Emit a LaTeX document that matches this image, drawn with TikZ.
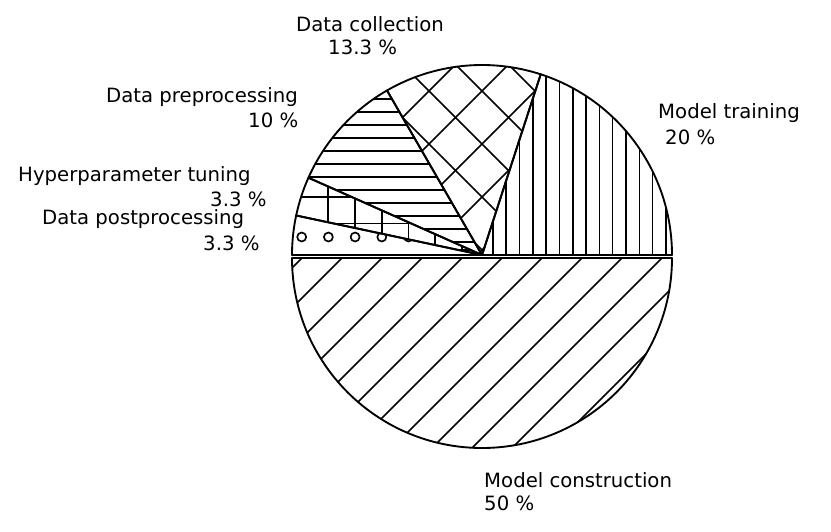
\documentclass[tikz,border=0pt]{standalone}
\usepackage{fontspec}
\setmainfont{DejaVu Sans}
\newcommand\slice[3]{(#1) -- ++(-#2:190) arc[start angle=-#2, end angle=-#3, radius=190] -- cycle}
\begin{document}
\begin{tikzpicture}[x=0.03cm,y=-0.03cm,line join=round,
    rim/.style={line width=1.6pt},
    hatch/.style={line width=1.4pt},
    lbl/.style={anchor=west,inner sep=0pt,font=\fontsize{16.8}{19}\selectfont}]
\useasboundingbox (0,0) rectangle (831,532);
\coordinate (top) at (482,255);
\coordinate (bot) at (482,258);
% model training
\begin{scope}
	\clip \slice{top}{0}{72};
	\foreach \k in {0,...,14} \draw[hatch] ({492.7+13.33*\k},50) -- ++(0,220);
\end{scope}
\draw[rim] \slice{top}{0}{72};
% data collection
\begin{scope}
	\clip \slice{top}{72}{120};
	\foreach \k in {-6,...,6} {
		\draw[hatch] ({482+53*\k-250},0) -- ++(500,500);
		\draw[hatch] ({482+53*\k+250},0) -- ++(-500,500);
	}
\end{scope}
\draw[rim] \slice{top}{72}{120};
% data preprocessing
\begin{scope}
	\clip \slice{top}{120}{156};
	\foreach \k in {0,...,12} \draw[hatch] (280,{99.3+13*\k}) -- ++(220,0);
\end{scope}
\draw[rim] \slice{top}{120}{156};
% hyperparameter tuning
\begin{scope}
	\clip \slice{top}{156}{168};
	\foreach \k in {0,...,6} \draw[hatch] ({328.3+26.7*\k},150) -- ++(0,120);
	\foreach \k in {0,...,2} \draw[hatch] (280,{196.7+26.7*\k}) -- ++(220,0);
\end{scope}
\draw[rim] \slice{top}{156}{168};
% data postprocessing
\begin{scope}
	\clip \slice{top}{168}{180};
	\foreach \k in {0,...,6} \draw[hatch] ({301.7+26.7*\k},237) circle[radius=4.5];
\end{scope}
\draw[rim] \slice{top}{168}{180};
% model construction
\begin{scope}
	\clip \slice{bot}{180}{360};
	\foreach \k in {0,...,17} \draw[hatch] ({260+40*\k-300},560) -- ++(320,-320);
\end{scope}
\draw[rim] \slice{bot}{180}{360};
% labels
\node[lbl] (dc1) at (296,24) {Data collection};
\node[lbl] (dc2) at (328,47) {13.3 \%};
\node[lbl] (dp1) at (106,97) {Data preprocessing};
\node[lbl] (dp2) at (248,120) {10 \%};
\node[lbl] (mt1) at (658,113) {Model training};
\node[lbl] (mt2) at (665,137) {20 \%};
\node[lbl] (ht1) at (18,176) {Hyperparameter tuning};
\node[lbl] (ht2) at (210,199) {3.3 \%};
\node[lbl] (pp1) at (42,219) {Data postprocessing};
\node[lbl] (pp2) at (203,243) {3.3 \%};
\node[lbl] (mc1) at (484,480) {Model construction};
\node[lbl] (mc2) at (484,503) {50 \%};
\end{tikzpicture}
\end{document}
